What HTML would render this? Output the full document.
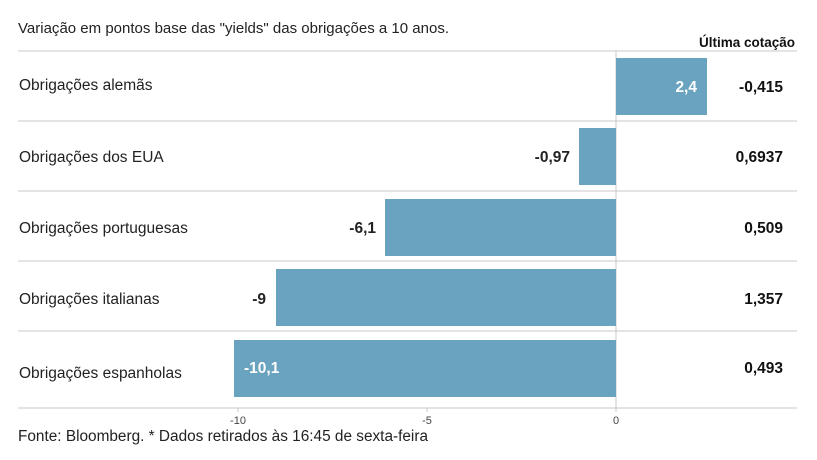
<!DOCTYPE html>
<html><head><meta charset="utf-8"><style>
html,body{margin:0;padding:0;background:#fff;width:817px;height:460px;overflow:hidden}
svg{display:block;font-family:"Liberation Sans",sans-serif}
</style></head><body>
<svg width="817" height="460" viewBox="0 0 817 460">
<text x="18" y="33" font-size="15" fill="#222" textLength="431" lengthAdjust="spacingAndGlyphs">Variação em pontos base das "yields" das obrigações a 10 anos.</text>
<text x="795" y="47" font-size="13.5" font-weight="bold" fill="#111" text-anchor="end">Última cotação</text>
<g stroke="#c8c8c8" stroke-width="1">
<line x1="18" y1="51" x2="797" y2="51"/>
<line x1="18" y1="121" x2="797" y2="121"/>
<line x1="18" y1="191" x2="797" y2="191"/>
<line x1="18" y1="261" x2="797" y2="261"/>
<line x1="18" y1="331" x2="797" y2="331"/>
<line x1="18" y1="408" x2="797" y2="408"/>
<line x1="616" y1="51" x2="616" y2="412"/>
<line x1="427" y1="408" x2="427" y2="412"/>
<line x1="238" y1="408" x2="238" y2="412"/>
</g>
<g fill="#6aa3bf">
<rect x="616" y="58" width="91" height="57"/>
<rect x="579" y="128" width="37" height="57"/>
<rect x="385" y="199" width="231" height="57"/>
<rect x="276" y="269" width="340" height="57"/>
<rect x="234" y="340" width="382" height="57"/>
</g>
<g font-size="15.5" fill="#222">
<text x="19" y="90">Obrigações alemãs</text>
<text x="19" y="162">Obrigações dos EUA</text>
<text x="19" y="233">Obrigações portuguesas</text>
<text x="19" y="304">Obrigações italianas</text>
<text x="19" y="378">Obrigações espanholas</text>
</g>
<g font-size="15.5" font-weight="bold">
<text x="697" y="92" fill="#fff" text-anchor="end">2,4</text>
<text x="570" y="162" fill="#222" text-anchor="end">-0,97</text>
<text x="376" y="233" fill="#222" text-anchor="end">-6,1</text>
<text x="266" y="304" fill="#222" text-anchor="end">-9</text>
<text x="244" y="373" fill="#fff">-10,1</text>
</g>
<g font-size="15.5" font-weight="bold" fill="#111" text-anchor="end">
<text x="783" y="92">-0,415</text>
<text x="783" y="162">0,6937</text>
<text x="783" y="233">0,509</text>
<text x="783" y="304">1,357</text>
<text x="783" y="373">0,493</text>
</g>
<g font-size="11" fill="#444" text-anchor="middle">
<text x="238" y="424">-10</text>
<text x="427" y="424">-5</text>
<text x="616" y="424">0</text>
</g>
<text x="18" y="441" font-size="15.5" fill="#222" textLength="410" lengthAdjust="spacingAndGlyphs">Fonte: Bloomberg.  * Dados retirados às 16:45 de sexta-feira</text>
</svg>
</body></html>
